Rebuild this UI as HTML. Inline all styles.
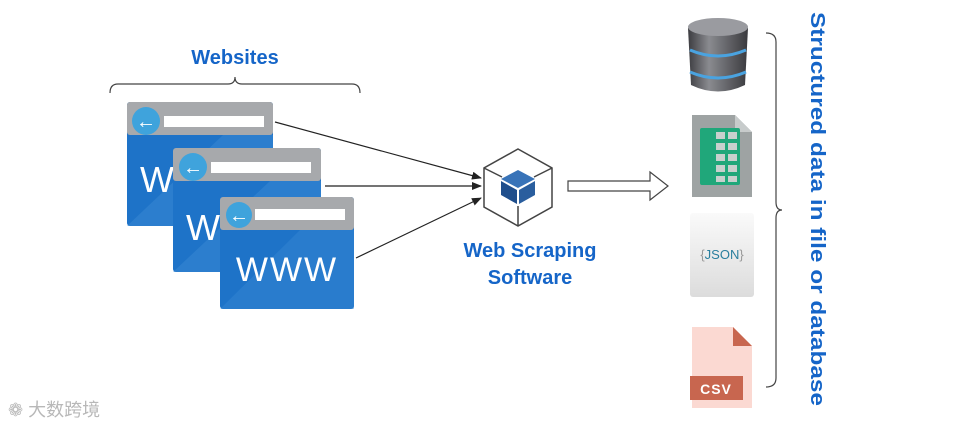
<!DOCTYPE html>
<html><head><meta charset="utf-8"><style>
body{margin:0;background:#fff;width:959px;height:425px;overflow:hidden}
text{font-family:"Liberation Sans","Noto Sans CJK SC",sans-serif}
</style></head><body>
<svg width="959" height="425" viewBox="0 0 959 425" xmlns="http://www.w3.org/2000/svg">
<defs>
<marker id="ah" markerWidth="10" markerHeight="8" refX="9" refY="4" orient="auto" markerUnits="userSpaceOnUse">
<path d="M0,0 L10,4 L0,8 Z" fill="#222"/></marker>
<linearGradient id="db" x1="0" x2="1"><stop offset="0" stop-color="#3c3c40"/><stop offset="0.35" stop-color="#8a8b90"/><stop offset="1" stop-color="#3a3a3e"/></linearGradient>
<linearGradient id="js" x1="0" y1="0" x2="0" y2="1"><stop offset="0" stop-color="#fafafa"/><stop offset="1" stop-color="#dcdcdc"/></linearGradient>
</defs>
<text x="235" y="64" text-anchor="middle" font-size="20" font-weight="bold" fill="#1565c8">Websites</text>
<path d="M110,93 Q110,84 118,84 L228,84 Q235,84 235,77 Q235,84 242,84 L352,84 Q360,84 360,93" fill="none" stroke="#444" stroke-width="1.2"/>
<g>
<rect x="127" y="102" width="146" height="124" rx="3" fill="#1e73c8"/>
<path d="M127,226 L223,135 L273,135 L273,226 Z" fill="#3a8ad4" opacity="0.5"/>
<rect x="127" y="102" width="146" height="33" rx="3" fill="#a7a9ac"/>
<circle cx="146" cy="121" r="14" fill="#3fa3dc"/>
<text x="146" y="128" text-anchor="middle" font-size="20" fill="#fff">←</text>
<rect x="164" y="116" width="100" height="11" fill="#fff"/>
<text x="140" y="192" font-size="36" fill="#fff">W</text>
</g>
<g>
<rect x="173" y="148" width="148" height="124" rx="3" fill="#1e73c8"/>
<path d="M173,272 L270,181 L321,181 L321,272 Z" fill="#3a8ad4" opacity="0.5"/>
<rect x="173" y="148" width="148" height="33" rx="3" fill="#a7a9ac"/>
<circle cx="193" cy="167" r="14" fill="#3fa3dc"/>
<text x="193" y="174" text-anchor="middle" font-size="20" fill="#fff">←</text>
<rect x="211" y="162" width="100" height="11" fill="#fff"/>
<text x="186" y="240" font-size="36" fill="#fff">W</text>
</g>
<g>
<rect x="220" y="197" width="134" height="112" rx="3" fill="#1e73c8"/>
<path d="M220,309 L300,230 L354,230 L354,309 Z" fill="#3a8ad4" opacity="0.4"/>
<rect x="220" y="197" width="134" height="33" rx="3" fill="#a7a9ac"/>
<circle cx="239" cy="215" r="13" fill="#3fa3dc"/>
<text x="239" y="222" text-anchor="middle" font-size="20" fill="#fff">←</text>
<rect x="255" y="209" width="90" height="11" fill="#fff"/>
<text x="287" y="281" text-anchor="middle" font-size="34" fill="#fff" letter-spacing="2">WWW</text>
</g>
<line x1="275" y1="122" x2="481" y2="178" stroke="#222" stroke-width="1.2" marker-end="url(#ah)"/>
<line x1="325" y1="186" x2="481" y2="186" stroke="#222" stroke-width="1.2" marker-end="url(#ah)"/>
<line x1="356" y1="258" x2="481" y2="198" stroke="#222" stroke-width="1.2" marker-end="url(#ah)"/>
<path d="M518,149 L552,168 L552,207 L518,226 L484,207 L484,168 Z M484,168 L502,177 M552,168 L534,177 M518,226 L518,206" fill="none" stroke="#444" stroke-width="1.5"/>
<path d="M518,170 L535,179 L518,188 L501,179 Z" fill="#3873b8"/>
<path d="M501,181 L517,190 L517,204 L501,195 Z" fill="#1f4e8c"/>
<path d="M535,181 L519,190 L519,204 L535,195 Z" fill="#2a5e9e"/>
<text x="530" y="257" text-anchor="middle" font-size="20" font-weight="bold" fill="#1565c8">Web Scraping</text>
<text x="530" y="284" text-anchor="middle" font-size="20" font-weight="bold" fill="#1565c8">Software</text>
<path d="M568,181 L650,181 L650,172 L668,186 L650,200 L650,191 L568,191 Z" fill="#fff" stroke="#444" stroke-width="1.2"/>
<path d="M688,28 Q718,14 748,28 L745,85 Q718,98 691,85 Z" fill="url(#db)"/>
<ellipse cx="718" cy="27" rx="30" ry="9" fill="#9a9ba0"/>
<path d="M690,50 Q718,62 746,50" stroke="#4aa3e0" stroke-width="3" fill="none"/>
<path d="M690,72 Q718,84 746,72" stroke="#4aa3e0" stroke-width="3" fill="none"/>
<path d="M692,115 L735,115 L752,132 L752,197 L692,197 Z" fill="#9ea3a3"/>
<path d="M735,115 L752,132 L735,132 Z" fill="#c7cbcb"/>
<rect x="700" y="128" width="40" height="57" rx="2" fill="#20a77a"/>
<g fill="#c8d0cd"><rect x="716" y="132" width="9" height="7"/><rect x="728" y="132" width="9" height="7"/><rect x="716" y="143" width="9" height="7"/><rect x="728" y="143" width="9" height="7"/><rect x="716" y="154" width="9" height="7"/><rect x="728" y="154" width="9" height="7"/><rect x="716" y="165" width="9" height="7"/><rect x="728" y="165" width="9" height="7"/><rect x="716" y="176" width="9" height="6"/><rect x="728" y="176" width="9" height="6"/></g>
<rect x="690" y="213" width="64" height="84" rx="3" fill="url(#js)"/>
<text x="722" y="259" text-anchor="middle" font-size="13" fill="#2a7f9e"><tspan fill="#999">{</tspan>JSON<tspan fill="#999">}</tspan></text>
<path d="M692,327 L733,327 L752,346 L752,408 L692,408 Z" fill="#fbd9d2"/>
<path d="M733,327 L752,346 L733,346 Z" fill="#c8664f"/>
<rect x="690" y="376" width="53" height="24" fill="#c8664f"/>
<text x="716" y="394" text-anchor="middle" font-size="14" font-weight="bold" fill="#fff" letter-spacing="1">CSV</text>
<path d="M766,33 Q776,33 776,42 L776,202 Q776,210 782,210 Q776,210 776,218 L776,378 Q776,387 766,387" fill="none" stroke="#444" stroke-width="1.2"/>
<text transform="translate(811,12) rotate(90)" font-size="20" font-weight="bold" fill="#1565c8" textLength="394" lengthAdjust="spacingAndGlyphs">Structured data in file or database</text>
<text x="8" y="416" font-size="18" fill="#b8b8b8">❁ 大数跨境</text>
</svg>
</body></html>
